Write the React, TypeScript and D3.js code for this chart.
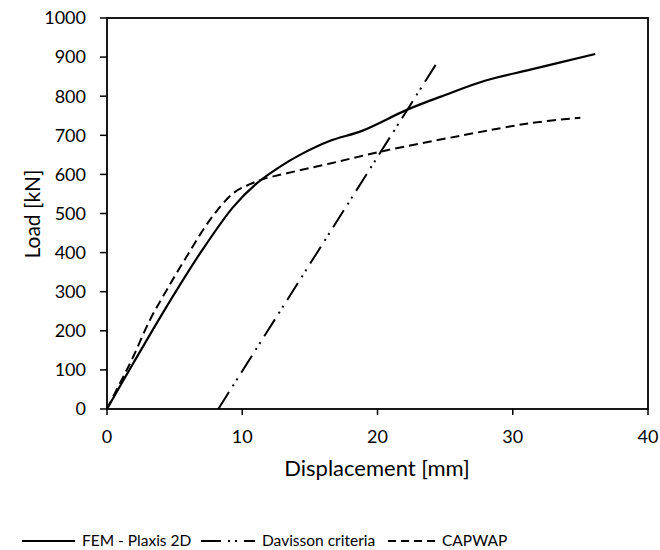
import React from "react";
import * as d3 from "d3";

const femDisp = [0, 1.94, 4.41, 6.88, 9.34, 11.07, 12.8, 14.27, 16.5, 18.9, 22.16, 25, 28, 31.3, 36.1];
const femLoad = [0, 117, 262, 398, 517, 577, 620, 650, 686, 712, 765, 803, 840, 868, 908];

const capDisp = [0, 0.96, 1.82, 3.18, 4.41, 5.89, 7.6, 9.34, 10.57, 11.56, 13.3, 16.5, 20.2, 26.3, 31.3, 35];
const capLoad = [0, 66, 125, 228, 304, 390, 483, 552, 575, 588, 603, 628, 658, 700, 731, 745];

const davDisp = [8.23, 24.5];
const davLoad = [0, 891];

const xTicks = [0, 10, 20, 30, 40];
const yTicks = [0, 100, 200, 300, 400, 500, 600, 700, 800, 900, 1000];

const legendLabels = ["FEM - Plaxis 2D", "Davisson criteria", "CAPWAP"];

const FONT = "Lato, 'Open Sans', sans-serif";

export default function App() {
  const W = 660, H = 550;
  const left = 107, right = 648, top = 18, bottom = 409;
  const x = d3.scaleLinear().domain([0, 40]).range([left, right]);
  const y = d3.scaleLinear().domain([0, 1000]).range([bottom, top]);

  const line = d3
    .line<[number, number]>()
    .x((d) => x(d[0]))
    .y((d) => y(d[1]))
    .curve(d3.curveCatmullRom.alpha(0.5));
  const straight = d3
    .line<[number, number]>()
    .x((d) => x(d[0]))
    .y((d) => y(d[1]));

  const fem = femDisp.map((d, i) => [d, femLoad[i]] as [number, number]);
  const cap = capDisp.map((d, i) => [d, capLoad[i]] as [number, number]);
  const dav = davDisp.map((d, i) => [d, davLoad[i]] as [number, number]);

  const davDash = "20,7,2,5,2,7";
  const capDash = "9,5";

  const ly = 541;

  return (
    <svg width={W} height={H} style={{ position: "absolute", left: 0, top: 0, background: "#fff" }} fontFamily={FONT}>
      <rect x={0} y={0} width={W} height={H} fill="#fff" />
      <rect x={left} y={top} width={right - left} height={bottom - top} fill="none" stroke="#000" strokeWidth={1.8} />
      {yTicks.map((t) => (
        <g key={"y" + t}>
          <line x1={left - 7} x2={left} y1={y(t)} y2={y(t)} stroke="#000" strokeWidth={1.5} />
          <text x={86} y={y(t)} dy="0.35em" textAnchor="end" fontSize={18} fill="#000">
            {t}
          </text>
        </g>
      ))}
      {xTicks.map((t) => (
        <g key={"x" + t}>
          <line x1={x(t)} x2={x(t)} y1={bottom} y2={bottom + 6} stroke="#000" strokeWidth={1.5} />
          <text x={x(t)} y={437} dy="0.35em" textAnchor="middle" fontSize={18} fill="#000">
            {t}
          </text>
        </g>
      ))}
      <text x={377} y={468} dy="0.35em" textAnchor="middle" fontSize={22} fill="#000">
        Displacement [mm]
      </text>
      <text transform={`translate(33,214) rotate(-90)`} dy="0.35em" textAnchor="middle" fontSize={21} fill="#000">
        Load [kN]
      </text>

      <path d={straight(dav) || ""} fill="none" stroke="#000" strokeWidth={2} strokeDasharray={davDash} />
      <path d={line(cap) || ""} fill="none" stroke="#000" strokeWidth={2} strokeDasharray={capDash} />
      <path d={line(fem) || ""} fill="none" stroke="#000" strokeWidth={2.2} />

      <line x1={22} x2={75} y1={ly} y2={ly} stroke="#000" strokeWidth={2.2} />
      <text x={82} y={ly} dy="0.35em" fontSize={15.5} fill="#000">{legendLabels[0]}</text>
      <line x1={201} x2={255} y1={ly} y2={ly} stroke="#000" strokeWidth={2} strokeDasharray="20,7,2,5,2,7,20" />
      <text x={262} y={ly} dy="0.35em" fontSize={15.5} fill="#000">{legendLabels[1]}</text>
      <line x1={388} x2={435} y1={ly} y2={ly} stroke="#000" strokeWidth={2} strokeDasharray="8,5" />
      <text x={442} y={ly} dy="0.35em" fontSize={15.5} fill="#000">{legendLabels[2]}</text>
    </svg>
  );
}
